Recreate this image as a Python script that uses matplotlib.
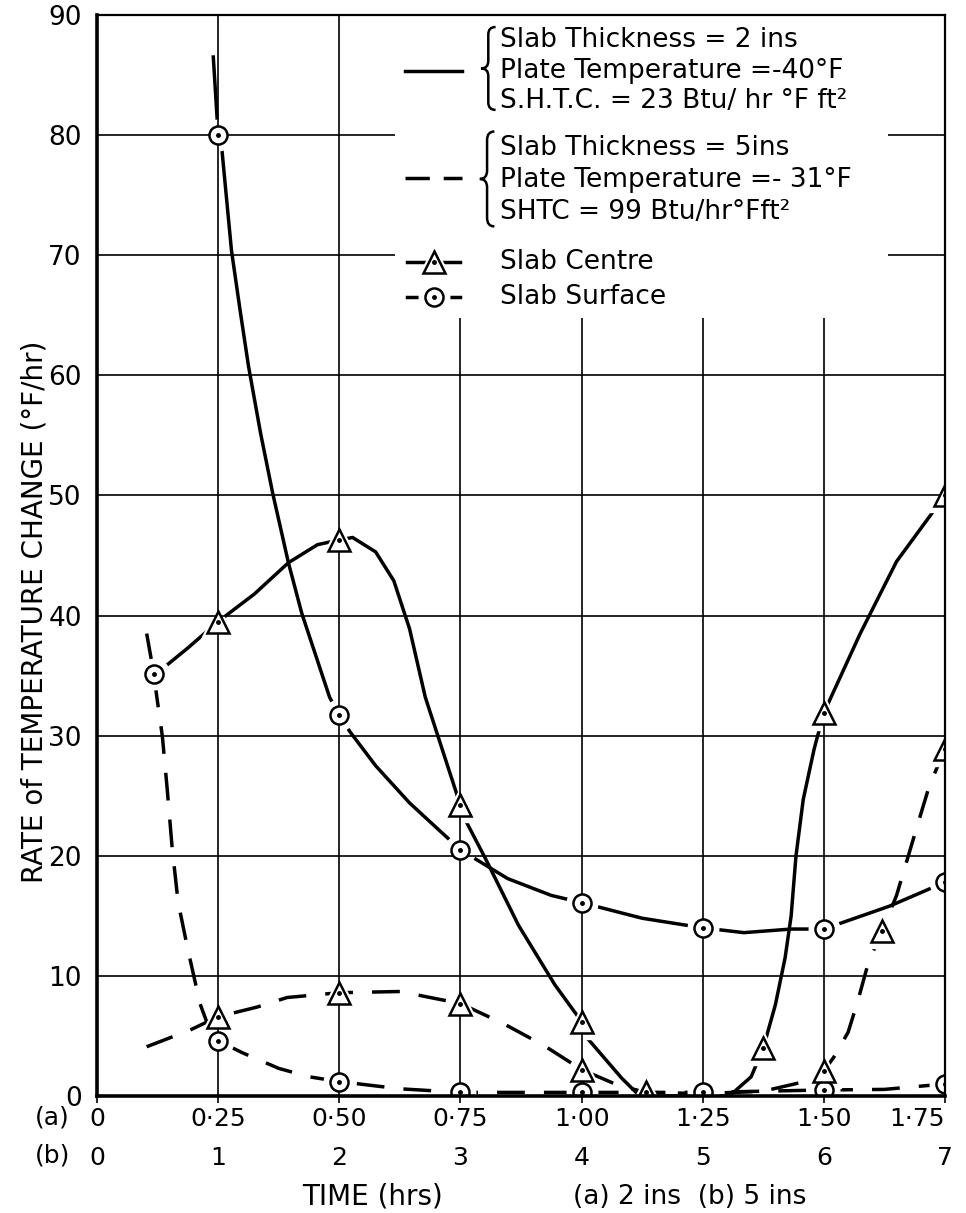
import numpy as np
import matplotlib
matplotlib.use("Agg")
from matplotlib import pyplot as plt
from matplotlib.path import Path
from matplotlib.patches import PathPatch, Rectangle

# x axis in (b) units: 0..7 hrs for 5 ins slab, (a) labels are 2 ins slab hrs
ticks_b = [0, 1, 2, 3, 4, 5, 6, 7]
labels_a = ["0", "0·25", "0·50", "0·75", "1·00", "1·25", "1·50", "1·75"]
labels_b = ["0", "1", "2", "3", "4", "5", "6", "7"]

# 2 ins slab, surface (solid line, circles)
surf2_curve_x = [0.96, 1.0, 1.03, 1.11, 1.18, 1.25, 1.35, 1.45, 1.58, 1.69, 1.92, 2.0, 2.09, 2.3,
                 2.58, 3.0, 3.39, 3.75, 4.0, 4.5, 5.0, 5.34, 5.73, 6.0, 6.54, 7.0]
surf2_curve_y = [86.5, 80, 78.9, 70.4, 65.5, 60.8, 55.2, 50.2, 44.4, 40.2, 33.2, 31.7, 30.3, 27.5,
                 24.4, 20.5, 18.1, 16.7, 16.1, 14.8, 14.0, 13.6, 13.9, 13.9, 15.8, 17.8]
surf2_x = [1, 2, 3, 4, 5, 6, 7]
surf2_y = [80, 31.7, 20.5, 16.1, 14.0, 13.9, 17.8]

# 2 ins slab, centre (solid line, triangles)
cent2_curve_x = [0.47, 0.75, 1.0, 1.3, 1.58, 1.82, 2.0, 2.11, 2.3, 2.45, 2.58, 2.71, 3.0, 3.05,
                 3.21, 3.48, 3.78, 4.0, 4.04, 4.33, 4.48, 4.53, 5.22, 5.4, 5.5, 5.6, 5.68,
                 5.73, 5.77, 5.83, 5.92, 6.0, 6.3, 6.6, 7.0]
cent2_curve_y = [35, 37.3, 39.5, 41.8, 44.4, 45.9, 46.3, 46.5, 45.3, 42.9, 38.9, 33.2, 24.2, 22.8,
                 19.7, 14.2, 9.25, 6.2, 4.9, 1.5, 0, 0, 0, 1.6, 4.0, 7.6, 11.5,
                 15.0, 20.0, 24.7, 28.9, 31.9, 38.5, 44.5, 50]
cent2_x = [1, 2, 3, 4, 4.53, 5.5, 6, 7]
cent2_y = [39.5, 46.3, 24.2, 6.2, 0.3, 4.0, 31.9, 50]

# 5 ins slab, surface (dashed line, circles)
surf5_curve_x = [0.41, 0.47, 0.49, 0.54, 0.58, 0.62, 0.67, 0.75, 0.85, 0.93, 1.0, 1.2, 1.5,
                 1.75, 2.0, 2.5, 3.0, 4.0, 5.0, 6.0, 6.5, 7.0]
surf5_curve_y = [38.5, 35.1, 33.5, 29.9, 25.5, 20.7, 16.1, 12.2, 7.7, 5.5, 4.6, 3.6, 2.3,
                 1.6, 1.2, 0.6, 0.3, 0.3, 0.3, 0.5, 0.55, 1.0]
surf5_x = [0.47, 1, 2, 3, 4, 5, 6, 7]
surf5_y = [35.1, 4.6, 1.2, 0.3, 0.3, 0.3, 0.5, 1.0]

# 5 ins slab, centre (dashed line, triangles)
cent5_curve_x = [0.41, 0.77, 1.0, 1.32, 1.57, 2.0, 2.5, 3.0, 3.36, 3.69, 4.0, 4.3, 4.53, 5.0,
                 5.5, 5.8, 6.0, 6.08, 6.2, 6.28, 6.37, 6.48, 6.6, 6.69, 6.78, 6.87, 7.0]
cent5_curve_y = [4.1, 5.5, 6.6, 7.4, 8.2, 8.6, 8.7, 7.7, 6.0, 4.2, 2.2, 0.9, 0.3, 0.2,
                 0.4, 1.1, 2.1, 3.2, 5.3, 7.9, 11.2, 13.7, 16.7, 19.75, 22.8, 25.8, 28.9]
cent5_x = [1, 2, 3, 4, 6, 6.48, 7]
cent5_y = [6.6, 8.6, 7.7, 2.2, 2.1, 13.7, 28.9]

plt.rcParams['font.family'] = ['DejaVu Sans']
fs = 18
dash = (0, (8, 5.5))
lw = 2.5

fig = plt.figure(figsize=(9.66, 12.13), dpi=100)
ax = fig.add_axes([97/966, (1213-1096)/1213, 848/966, (1096-15)/1213])
ax.set_xlim(0, 7)
ax.set_ylim(0, 90)


def markers(x, y, m, ms, z=4):
    ax.plot(x, y, ls='none', marker=m, ms=ms+9, mfc='white', mec='white', zorder=z-1.8)
    ax.plot(x, y, ls='none', marker=m, ms=ms, mfc='white', mec='black', mew=1.8, zorder=z)
    ax.plot(x, y, ls='none', marker='o', ms=2.5, mfc='black', mec='black', zorder=z+0.5)


ax.plot(surf2_curve_x, surf2_curve_y, color='black', lw=lw, zorder=2)
ax.plot(cent2_curve_x, cent2_curve_y, color='black', lw=lw, zorder=2)
ax.plot(surf5_curve_x, surf5_curve_y, color='black', lw=lw, ls=dash, zorder=2)
ax.plot(cent5_curve_x, cent5_curve_y, color='black', lw=lw, ls=dash, zorder=2)
markers(surf2_x, surf2_y, 'o', 13)
markers(surf5_x, surf5_y, 'o', 13)
markers(cent2_x, cent2_y, '^', 16)
markers(cent5_x, cent5_y, '^', 16)

# grid & axes
ax.set_axisbelow(False)
ax.set_xticks(ticks_b)
ax.set_xticklabels(labels_a, fontsize=fs)
ax.get_xticklabels()[-1].set_ha('right')
ax.set_yticks(range(0, 91, 10))
ax.set_yticklabels([str(v) for v in range(0, 91, 10)], fontsize=19)
ax.tick_params(axis='x', length=5, width=1.2, pad=3)
ax.tick_params(axis='y', length=0, pad=11)
ax.grid(True, color='black', lw=1.2)
for s in ['left', 'bottom']:
    ax.spines[s].set_linewidth(2.6)
for s in ['top', 'right']:
    ax.spines[s].set_linewidth(1.6)
for s in ax.spines.values():
    s.set_zorder(5)

# second row of x labels, 5 ins slab
sec = ax.secondary_xaxis(-0.0435)
sec.set_xticks(ticks_b)
sec.set_xticklabels(labels_b, fontsize=fs)
sec.tick_params(length=0, pad=2)
sec.spines['bottom'].set_visible(False)

# legend area
ax.add_patch(Rectangle((2.46, 64.8), 6.53 - 2.46, 90 - 64.8, fc='white', ec='none', zorder=2.7))


def brace(x, y0, y1, w=0.12):
    xm = x + w / 2
    xr = x + w
    mid = (y0 + y1) / 2
    r = 0.09 * (y1 - y0)
    verts = [(xr, y1), (xm, y1), (xm, y1 - r), (xm, mid + r), (xm, mid), (x, mid),
             (xm, mid), (xm, mid - r), (xm, y0 + r), (xm, y0), (xr, y0)]
    codes = [Path.MOVETO, Path.CURVE3, Path.CURVE3, Path.LINETO, Path.CURVE3, Path.CURVE3,
             Path.CURVE3, Path.CURVE3, Path.LINETO, Path.CURVE3, Path.CURVE3]
    ax.add_patch(PathPatch(Path(verts, codes), fill=False, lw=1.8, ec='black', zorder=5))


lfs = 19
tx = 3.33
ax.plot([2.54, 3.01], [85.3, 85.3], color='black', lw=lw, zorder=5)
brace(3.17, 82.1, 89.0)
ax.text(tx, 87.9, "Slab Thickness = 2 ins", fontsize=lfs, va='center', zorder=6)
ax.text(tx, 85.3, "Plate Temperature =-40°F", fontsize=lfs, va='center', zorder=6)
ax.text(tx, 82.8, "S.H.T.C. = 23 Btu/ hr °F ft²", fontsize=lfs, va='center', zorder=6)

ax.plot([2.54, 3.01], [76.4, 76.4], color='black', lw=lw, ls=(0, (7, 4)), zorder=5)
brace(3.16, 72.4, 80.3)
ax.text(tx, 78.9, "Slab Thickness = 5ins", fontsize=lfs, va='center', zorder=6)
ax.text(tx, 76.3, "Plate Temperature =- 31°F", fontsize=lfs, va='center', zorder=6)
ax.text(tx, 73.6, "SHTC = 99 Btu/hr°Fft²", fontsize=lfs, va='center', zorder=6)

for yy, m, ms, lab in [(69.4, '^', 16, "Slab Centre"), (66.5, 'o', 13, "Slab Surface")]:
    ax.plot([2.56, 3.0], [yy, yy], color='black', lw=lw, zorder=4.8)
    ax.plot([2.78], [yy], ls='none', marker=m, ms=ms+9, mfc='white', mec='white', zorder=4.9)
    ax.plot([2.78], [yy], ls='none', marker=m, ms=ms, mfc='white', mec='black', mew=1.8, zorder=5)
    ax.plot([2.78], [yy], ls='none', marker='o', ms=2.5, color='black', zorder=5.1)
    ax.text(tx, yy, lab, fontsize=lfs, va='center', zorder=6)

# axis texts
fig.text(70/966, 1 - 1118/1213, "(a)", fontsize=fs, ha='right', va='center')
fig.text(70/966, 1 - 1156/1213, "(b)", fontsize=fs, ha='right', va='center')
fig.text(372/966, 1 - 1197/1213, "TIME (hrs)", fontsize=20, ha='center', va='center')
fig.text(573/966, 1 - 1197/1213, "(a) 2 ins  (b) 5 ins", fontsize=19, ha='left', va='center')
fig.text(35/966, 1 - 612/1213, "RATE of TEMPERATURE CHANGE (°F/hr)", fontsize=20,
         rotation=90, ha='center', va='center')

fig.savefig("out.png", dpi=100)
